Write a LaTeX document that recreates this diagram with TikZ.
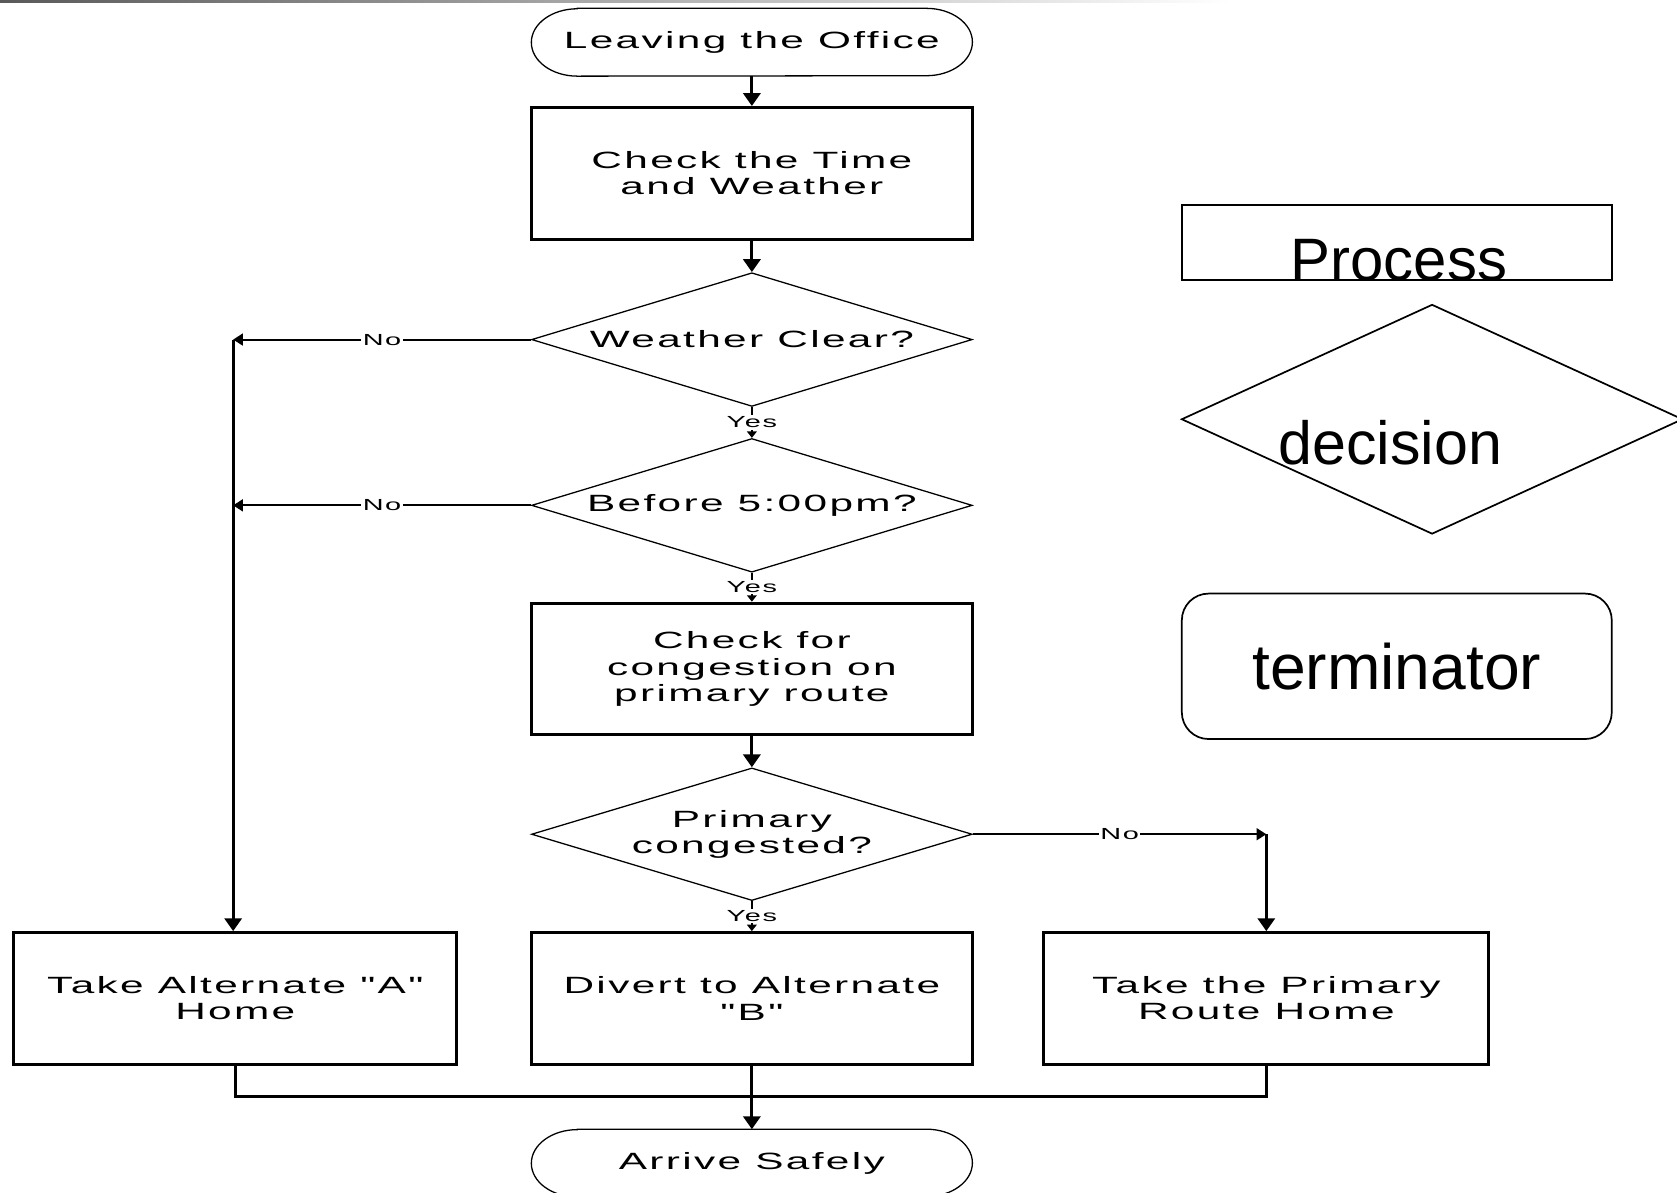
\documentclass[tikz,border=0pt]{standalone}
\usepackage{fontspec}
\setmainfont{Liberation Sans}
\newfontfamily\flowfont{Liberation Sans}[FakeStretch=1.8,LetterSpace=10.0]
\usetikzlibrary{arrows.meta,shapes.geometric,calc}
\newcommand\flowtext{\flowfont\fontsize{22}{24.5}\selectfont}
\newcommand\lbltext{\flowfont\fontsize{15}{17}\selectfont}
\newcommand\termpath[1]{%
  \draw[termline] ($(#1.north west)+(43,0)$) -- ($(#1.north east)+(-43,0)$)
    arc[start angle=90, end angle=-90, x radius=43pt, y radius=31.5pt]
    -- ($(#1.south west)+(43,0)$)
    arc[start angle=270, end angle=90, x radius=43pt, y radius=31.5pt] -- cycle;}
\begin{document}
\begin{tikzpicture}[x=1pt,y=-1pt,
  procbox/.style={draw, line width=2.8pt, minimum width=412pt, minimum height=123pt,
    inner sep=0pt, align=center, font=\flowtext},
  decbox/.style={diamond, draw, line width=1.2pt, minimum width=412pt, minimum height=125pt,
    inner sep=0pt, shape aspect=3.3, align=center, font=\flowtext},
  termnode/.style={minimum width=412pt, minimum height=63pt, inner sep=0pt, font=\flowtext},
  termline/.style={line width=1.2pt},
  bigtip/.style={-{Triangle[length=12pt,width=16pt]}},
  smalltip/.style={-{Triangle[length=9pt,width=11pt]}},
  tinytip/.style={-{Triangle[length=6pt,width=9pt]}},
  thickconn/.style={line width=2.8pt},
  noline/.style={line width=1.9pt},
  mergeline/.style={line width=2.4pt},
  lbl/.style={fill=white, inner sep=1.5pt, font=\lbltext},
  legendline/.style={line width=1.6pt}]
\useasboundingbox (0,0) rectangle (1568,1115);
\clip (0,0) rectangle (1568,1115);
\fill[white] (0,0) rectangle (1568,1115);
\shade[left color=black!65, right color=white] (0,0) rectangle (1150,2.5);

% flowchart nodes
\node[termnode] (T1) at (703,39.5) {Leaving the Office};
\termpath{T1}
\node[procbox] (P1) at (703,162) {Check the Time\\and Weather};
\node[decbox] (D1) at (703,317.5) {Weather Clear?};
\node[decbox] (D2) at (703,472.5) {Before 5:00pm?};
\node[procbox] (P2) at (703,625.5) {Check for\\congestion on\\primary route};
\node[decbox, minimum height=124pt] (D3) at (703,780) {Primary\\congested?};
\node[procbox, minimum width=414pt] (P3) at (220,933.5) {Take Alternate "A"\\Home};
\node[procbox] (P4) at (703,933.5) {Divert to Alternate\\"B"};
\node[procbox, minimum width=416pt] (P5) at (1184,933.5) {Take the Primary\\Route Home};
\node[termnode] (T2) at (703,1087.5) {Arrive Safely};
\termpath{T2}

% helper points
\coordinate (L1) at (218,317.5);
\coordinate (L2) at (218,472.5);
\coordinate (R1) at (1184,780);
\coordinate (M) at (703,1025);

% connectors
\draw[thickconn, bigtip] (T1) -- (P1);
\draw[thickconn, bigtip] (P1) -- (D1.north);
\draw[noline, tinytip] (D1.south) -- node[lbl] {Yes} (D2.north);
\draw[noline, tinytip] (D2.south) -- node[lbl] {Yes} (P2.north);
\draw[thickconn, bigtip] (P2) -- (D3.north);
\draw[noline, tinytip] (D3.south) -- node[lbl] {Yes} (P4.north);
\draw[noline, smalltip] (D1.west) -- node[lbl] {No} (L1);
\draw[noline, smalltip] (D2.west) -- node[lbl] {No} (L2);
\draw[thickconn, bigtip] (L1) -- (L1 |- P3.north);
\draw[noline, smalltip] (D3.east) -- node[lbl] {No} (R1);
\draw[thickconn, bigtip] (R1) -- (P5.north);
\draw[mergeline] (P3.south) |- (M);
\draw[mergeline] (P5.south) |- (M);
\draw[thickconn, bigtip] (P4.south) -- (T2.north);

% legend
\node[draw, legendline, minimum width=402pt, minimum height=70pt, inner sep=0pt] (legproc) at (1306,227) {};
\node[anchor=base, inner sep=0pt, font=\fontsize{56}{60}\selectfont] (legproctext) at (1308,262) {Process};
\draw[legendline] (1105,392) -- (1339,285) -- (1573,392) -- (1339,499) -- cycle;
\node[anchor=base, inner sep=0pt, font=\fontsize{57}{60}\selectfont] (legdec) at (1300,434) {decision};
\node[draw, legendline, rounded corners=25pt, minimum width=402pt, minimum height=136pt,
  inner sep=0pt, font=\fontsize{60}{64}\selectfont] (legterm) at (1306,623) {terminator};
\end{tikzpicture}
\end{document}
